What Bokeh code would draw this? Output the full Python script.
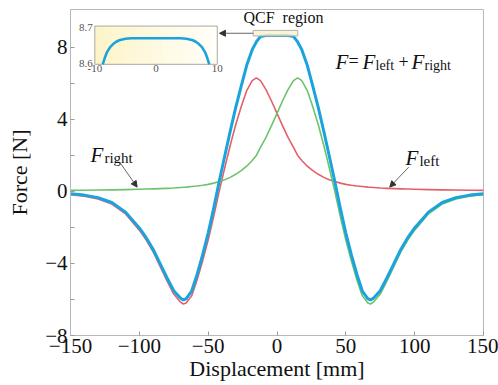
from bokeh.plotting import figure
from bokeh.embed import file_html
from bokeh.resources import INLINE
from bokeh.models import Range1d, FixedTicker, Arrow, NormalHead
from bokeh.core.properties import value

# ---------------- data ----------------
disp = [-150, -140, -130, -120, -110, -100, -95, -90, -85, -80, -75, -70, -68, -66, -62, -58,
        -54, -50, -46, -42, -38, -34, -30, -26, -22, -18, -15, -12, -8, -4, 0, 4, 8, 12, 15, 18,
        22, 26, 30, 34, 38, 42, 46, 50, 54, 58, 62, 66, 68, 70, 75, 80, 85, 90, 95, 100, 110,
        120, 130, 140, 150]

f_left = [-0.18, -0.27, -0.42, -0.70, -1.25, -2.15, -2.7, -3.35, -4.15, -4.95, -5.7, -6.15,
          -6.25, -6.2, -5.8, -4.9, -3.85, -2.7, -1.4, 0.0, 1.3, 2.55, 3.7, 4.7, 5.6, 6.15, 6.3,
          6.15, 5.65, 5.02, 4.33, 3.65, 3.0, 2.45, 2.0, 1.72, 1.4, 1.15, 0.95, 0.78, 0.65, 0.55,
          0.46, 0.39, 0.34, 0.3, 0.27, 0.24, 0.23, 0.22, 0.19, 0.17, 0.155, 0.14, 0.13, 0.12,
          0.1, 0.085, 0.075, 0.065, 0.055]

f_right = [0.055, 0.065, 0.075, 0.085, 0.1, 0.12, 0.13, 0.14, 0.155, 0.17, 0.19, 0.22, 0.23,
           0.24, 0.27, 0.3, 0.34, 0.39, 0.46, 0.55, 0.65, 0.78, 0.95, 1.15, 1.4, 1.72, 2.0,
           2.45, 3.0, 3.65, 4.33, 5.02, 5.65, 6.15, 6.3, 6.15, 5.6, 4.7, 3.7, 2.55, 1.3, 0.0,
           -1.4, -2.7, -3.85, -4.9, -5.8, -6.2, -6.25, -6.15, -5.7, -4.95, -4.15, -3.35, -2.7,
           -2.15, -1.25, -0.70, -0.42, -0.27, -0.18]

f_total = [-0.125, -0.205, -0.345, -0.615, -1.15, -2.03, -2.57, -3.21, -3.995, -4.78, -5.51,
           -5.93, -6.02, -5.96, -5.53, -4.6, -3.51, -2.31, -0.94, 0.55, 1.95, 3.33, 4.65, 5.85,
           7.0, 7.87, 8.3, 8.6, 8.65, 8.67, 8.66, 8.67, 8.65, 8.6, 8.3, 7.87, 7.0, 5.85, 4.65,
           3.33, 1.95, 0.55, -0.94, -2.31, -3.51, -4.6, -5.53, -5.96, -6.02, -5.93, -5.51, -4.78,
           -3.995, -3.21, -2.57, -2.03, -1.15, -0.615, -0.345, -0.205, -0.125]

# inset (QCF region zoom)
inset_x = [-8.7, -8.3, -8.0, -7.5, -7.0, -6.5, -6.0, -5.0, -4.0, -2.0, 0.0, 2.0, 4.0, 5.0,
           6.0, 6.5, 7.0, 7.5, 8.0, 8.3, 8.7]
inset_y = [8.600, 8.620, 8.632, 8.645, 8.653, 8.659, 8.663, 8.667, 8.668, 8.668, 8.668, 8.668,
           8.668, 8.667, 8.663, 8.659, 8.653, 8.645, 8.632, 8.620, 8.600]

x_ticks = [-150, -100, -50, 0, 50, 100, 150]
x_tick_labels = ["\u2212150", "\u2212100", "\u221250", "0", "50", "100", "150"]
y_ticks = [-8, -6, -4, -2, 0, 2, 4, 6, 8]
y_tick_labels = ["\u22128", "", "\u22124", "", "0", "", "4", "", "8"]
inset_x_ticks = [-10, 0, 10]
inset_x_labels = ["-10", "0", "10"]
inset_y_ticks = [8.6, 8.7]
inset_y_labels = ["8.6", "8.7"]

# ---------------- figure ----------------
SERIF = "Liberation Serif"
XS, XE, YS, YE = -150, 150, -8, 10.1

p = figure(output_backend="svg", toolbar_location=None,
           frame_width=413, frame_height=326,
           x_range=Range1d(XS, XE), y_range=Range1d(YS, YE),
           min_border_left=70, min_border_right=15, min_border_top=9, min_border_bottom=50)
p.background_fill_color = "white"
p.border_fill_color = "white"
p.outline_line_color = "#b8b8b8"
p.grid.visible = False

for ax in (p.xaxis[0], p.yaxis[0]):
    ax.axis_line_color = "#b8b8b8"
    ax.major_tick_line_color = "#9a9a9a"
    ax.major_tick_in = 4
    ax.major_tick_out = 0
    ax.minor_tick_line_color = None
    ax.major_label_text_font = SERIF
    ax.major_label_text_font_size = "21px"
    ax.major_label_text_color = "#111111"
    ax.axis_label_text_font = SERIF
    ax.axis_label_text_font_size = "22px"
    ax.axis_label_text_font_style = "normal"
    ax.axis_label_text_color = "#111111"
    ax.major_label_standoff = 3

p.xaxis.ticker = FixedTicker(ticks=x_ticks)
p.xaxis.major_label_overrides = dict(zip(x_ticks, x_tick_labels))
p.yaxis.ticker = FixedTicker(ticks=y_ticks)
p.yaxis.major_label_overrides = dict(zip(y_ticks, y_tick_labels))
p.xaxis.axis_label = "Displacement [mm]"
p.yaxis.axis_label = "Force [N]"
p.xaxis.axis_label_standoff = 0
p.yaxis.axis_label_standoff = 10

RED, GREEN, BLUE = "#e2606b", "#6dc26d", "#1aa3dc"
p.line(disp, f_left, line_color=RED, line_width=1.6, line_join="round")
p.line(disp, f_right, line_color=GREEN, line_width=1.6, line_join="round")
p.line(disp, f_total, line_color=BLUE, line_width=3, line_join="round")

# ---------------- inset via extra ranges ----------------
IX0, IX1, IY0, IY1 = -132.35, -43.4, 7.056, 9.18   # inset box in main data coords
IXD0, IXD1, IYD0, IYD1 = -10, 10, 8.6, 8.7
sx = (IXD1 - IXD0) / (IX1 - IX0)
sy = (IYD1 - IYD0) / (IY1 - IY0)
p.extra_x_ranges = {"ix": Range1d(IXD0 + (XS - IX0) * sx, IXD0 + (XE - IX0) * sx)}
p.extra_y_ranges = {"iy": Range1d(IYD0 + (YS - IY0) * sy, IYD0 + (YE - IY0) * sy)}

# gradient background
N = 40
c0, c1 = (253, 244, 200), (255, 254, 248)
lefts, rights, cols = [], [], []
for i in range(N):
    t = i / (N - 1)
    lefts.append(IXD0 + (IXD1 - IXD0) * i / N)
    rights.append(IXD0 + (IXD1 - IXD0) * (i + 1) / N)
    cols.append("#%02x%02x%02x" % tuple(round(a + (b - a) * t) for a, b in zip(c0, c1)))
p.quad(left=lefts, right=rights, bottom=IYD0, top=IYD1, fill_color=cols, line_color=cols,
       line_width=0.5, x_range_name="ix", y_range_name="iy")
p.quad(left=[IXD0], right=[IXD1], bottom=[IYD0], top=[IYD1], fill_color=None,
       line_color="#a8a8a8", line_width=1, x_range_name="ix", y_range_name="iy")
p.line(inset_x, inset_y, line_color=BLUE, line_width=2.6, line_join="round",
       x_range_name="ix", y_range_name="iy")
p.text(x=inset_x_ticks, y=[IYD0] * 3, text=inset_x_labels, text_align="center",
       text_baseline="top", y_offset=1, text_font=value(SERIF), text_font_size="11px",
       text_color="#555555", x_range_name="ix", y_range_name="iy")
p.text(x=[IXD0] * 2, y=inset_y_ticks, text=inset_y_labels, text_align="right",
       text_baseline="middle", x_offset=-2, y_offset=[-1, 1], text_font=value(SERIF),
       text_font_size="11px", text_color="#555555", x_range_name="ix", y_range_name="iy")

# ---------------- QCF region marker ----------------
p.quad(left=[-17.3], right=[15.1], bottom=[8.63], top=[8.94], fill_color="#fbf1cc",
       fill_alpha=0.8, line_color="#b0b0b0", line_width=1)
p.text(x=[4.7], y=[9.67], text=["QCF\u00a0\u00a0region"], text_align="center",
       text_baseline="middle", text_font=value(SERIF), text_font_size="16px",
       text_color="#111111")
p.add_layout(Arrow(end=NormalHead(size=6, fill_color="#333333", line_color="#333333"),
                   x_start=-17.3, y_start=8.78, x_end=-41.8, y_end=8.78,
                   line_color="#666666", line_width=1))

# ---------------- formula & labels ----------------
def label(x, y, parts):
    for txt, dx, dy, size, style in parts:
        p.text(x=[x], y=[y], text=[txt], x_offset=dx, y_offset=dy, text_align="left",
               text_baseline="alphabetic", text_font=value(SERIF), text_font_size=size,
               text_font_style=style, text_color="#111111")

label(42.5, 7.18, [("F", 0, 0, "21px", "italic"),
                   ("=", 13, -1, "18px", "normal"),
                   ("F", 27, 0, "21px", "italic"),
                   ("left", 40, 3, "14px", "normal"),
                   ("+", 63, -1, "18px", "normal"),
                   ("F", 76, 0, "21px", "italic"),
                   ("right", 89, 3, "14px", "normal")])
label(-135.5, 2.0, [("F", 0, 0, "21px", "italic"), ("right", 14, 3, "15px", "normal")])
label(93.3, 1.83, [("F", 0, 0, "21px", "italic"), ("left", 14, 3, "15px", "normal")])

p.add_layout(Arrow(end=NormalHead(size=6, fill_color="#333333", line_color="#333333"),
                   x_start=-113.7, y_start=1.56, x_end=-101.6, y_end=0.24,
                   line_color="#666666", line_width=1))
p.add_layout(Arrow(end=NormalHead(size=6, fill_color="#333333", line_color="#333333"),
                   x_start=95.7, y_start=1.35, x_end=81.9, y_end=0.24,
                   line_color="#666666", line_width=1))

open("out.html", "w").write(file_html(p, INLINE))
